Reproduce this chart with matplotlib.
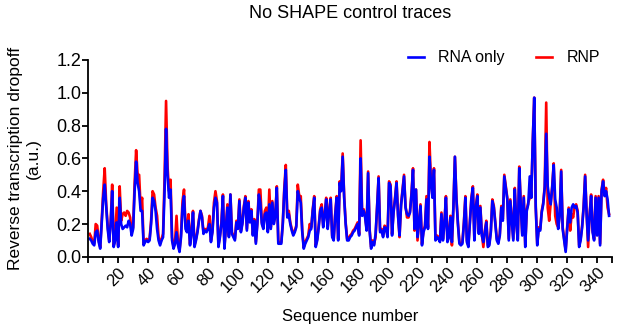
import matplotlib
matplotlib.use("Agg")
import matplotlib.pyplot as plt
from matplotlib.ticker import MultipleLocator, FormatStrFormatter

plt.rcParams['font.family'] = ['Liberation Sans', 'DejaVu Sans']

# Sequence positions 1..348
rna_only = [
    0.11, 0.10, 0.08, 0.07, 0.15, 0.16, 0.09, 0.05, 0.20, 0.36,
    0.44, 0.30, 0.17, 0.09, 0.20, 0.40, 0.06, 0.10, 0.21, 0.06,
    0.36, 0.20, 0.17, 0.18, 0.19, 0.18, 0.22, 0.20, 0.13, 0.17,
    0.40, 0.58, 0.45, 0.40, 0.28, 0.28, 0.07, 0.09, 0.10, 0.09,
    0.10, 0.20, 0.36, 0.34, 0.28, 0.17, 0.10, 0.07, 0.10, 0.12,
    0.40, 0.78, 0.50, 0.36, 0.41, 0.10, 0.05, 0.08, 0.15, 0.07,
    0.03, 0.12, 0.30, 0.37, 0.17, 0.15, 0.22, 0.07, 0.14, 0.27,
    0.06, 0.10, 0.15, 0.22, 0.28, 0.24, 0.14, 0.16, 0.15, 0.17,
    0.20, 0.09, 0.15, 0.30, 0.36, 0.33, 0.06, 0.12, 0.20, 0.37,
    0.05, 0.18, 0.30, 0.12, 0.38, 0.14, 0.12, 0.10, 0.21, 0.17,
    0.34, 0.15, 0.20, 0.30, 0.36, 0.16, 0.33, 0.21, 0.28, 0.13,
    0.22, 0.08, 0.20, 0.38, 0.33, 0.20, 0.17, 0.26, 0.27, 0.15,
    0.32, 0.17, 0.33, 0.20, 0.25, 0.42, 0.08, 0.08, 0.08, 0.20,
    0.40, 0.53, 0.24, 0.26, 0.20, 0.16, 0.13, 0.15, 0.18, 0.40,
    0.36, 0.33, 0.15, 0.05, 0.08, 0.10, 0.12, 0.16, 0.17, 0.28,
    0.36, 0.06, 0.10, 0.18, 0.28, 0.30, 0.18, 0.25, 0.35, 0.17,
    0.28, 0.35, 0.12, 0.10, 0.25, 0.36, 0.10, 0.45, 0.40, 0.61,
    0.36, 0.20, 0.10, 0.10, 0.12, 0.13, 0.15, 0.16, 0.18, 0.20,
    0.13, 0.60, 0.25, 0.28, 0.24, 0.16, 0.51, 0.16, 0.05, 0.09,
    0.07, 0.14, 0.30, 0.48, 0.15, 0.16, 0.12, 0.18, 0.17, 0.12,
    0.45, 0.43, 0.13, 0.27, 0.35, 0.45, 0.25, 0.13, 0.31, 0.40,
    0.49, 0.30, 0.26, 0.25, 0.27, 0.38, 0.53, 0.17, 0.41, 0.12,
    0.20, 0.31, 0.07, 0.15, 0.18, 0.35, 0.17, 0.61, 0.45, 0.36,
    0.53, 0.10, 0.12, 0.11, 0.09, 0.26, 0.10, 0.20, 0.36, 0.09,
    0.12, 0.24, 0.09, 0.30, 0.61, 0.35, 0.20, 0.08, 0.07, 0.08,
    0.20, 0.36, 0.09, 0.06, 0.20, 0.35, 0.42, 0.10, 0.30, 0.37,
    0.14, 0.30, 0.13, 0.09, 0.15, 0.21, 0.06, 0.07, 0.15, 0.34,
    0.30, 0.20, 0.10, 0.08, 0.13, 0.30, 0.22, 0.49, 0.42, 0.35,
    0.10, 0.34, 0.22, 0.10, 0.41, 0.20, 0.10, 0.54, 0.31, 0.13,
    0.36, 0.06, 0.28, 0.32, 0.49, 0.36, 0.70, 0.97, 0.30, 0.07,
    0.17, 0.16, 0.27, 0.32, 0.42, 0.75, 0.43, 0.36, 0.32, 0.42,
    0.56, 0.35, 0.30, 0.17, 0.25, 0.52, 0.17, 0.10, 0.03, 0.17,
    0.29, 0.21, 0.30, 0.32, 0.30, 0.31, 0.27, 0.06, 0.10, 0.18,
    0.30, 0.49, 0.26, 0.10, 0.25, 0.37, 0.15, 0.10, 0.36, 0.13,
    0.36, 0.07, 0.40, 0.46, 0.37, 0.40, 0.35, 0.25,
]

rnp = [
    0.14, 0.12, 0.09, 0.08, 0.20, 0.19, 0.10, 0.06, 0.22, 0.40,
    0.54, 0.32, 0.19, 0.10, 0.21, 0.44, 0.07, 0.11, 0.30, 0.07,
    0.43, 0.22, 0.26, 0.27, 0.25, 0.28, 0.27, 0.24, 0.15, 0.18,
    0.45, 0.65, 0.50, 0.50, 0.30, 0.36, 0.08, 0.10, 0.11, 0.10,
    0.11, 0.22, 0.40, 0.38, 0.30, 0.25, 0.12, 0.08, 0.11, 0.14,
    0.48, 0.95, 0.55, 0.40, 0.47, 0.12, 0.06, 0.09, 0.25, 0.08,
    0.04, 0.14, 0.34, 0.41, 0.19, 0.17, 0.26, 0.08, 0.15, 0.28,
    0.07, 0.11, 0.16, 0.23, 0.28, 0.25, 0.15, 0.17, 0.16, 0.18,
    0.25, 0.10, 0.16, 0.33, 0.40, 0.34, 0.07, 0.13, 0.21, 0.38,
    0.06, 0.19, 0.32, 0.13, 0.38, 0.15, 0.13, 0.11, 0.22, 0.18,
    0.35, 0.16, 0.21, 0.31, 0.37, 0.17, 0.34, 0.22, 0.29, 0.14,
    0.23, 0.09, 0.21, 0.41, 0.41, 0.21, 0.18, 0.28, 0.30, 0.16,
    0.41, 0.18, 0.34, 0.21, 0.26, 0.43, 0.09, 0.09, 0.09, 0.21,
    0.42, 0.56, 0.25, 0.28, 0.21, 0.17, 0.14, 0.16, 0.19, 0.44,
    0.37, 0.37, 0.16, 0.06, 0.09, 0.11, 0.13, 0.20, 0.18, 0.29,
    0.37, 0.07, 0.11, 0.19, 0.29, 0.32, 0.19, 0.26, 0.36, 0.18,
    0.29, 0.36, 0.13, 0.11, 0.26, 0.37, 0.11, 0.46, 0.41, 0.63,
    0.37, 0.21, 0.11, 0.11, 0.13, 0.14, 0.16, 0.17, 0.19, 0.21,
    0.14, 0.71, 0.26, 0.29, 0.25, 0.17, 0.52, 0.17, 0.06, 0.10,
    0.08, 0.12, 0.31, 0.49, 0.16, 0.17, 0.13, 0.19, 0.18, 0.13,
    0.46, 0.44, 0.14, 0.28, 0.36, 0.46, 0.26, 0.12, 0.32, 0.41,
    0.50, 0.31, 0.24, 0.24, 0.28, 0.39, 0.54, 0.16, 0.41, 0.10,
    0.21, 0.32, 0.08, 0.16, 0.19, 0.37, 0.18, 0.70, 0.46, 0.37,
    0.54, 0.11, 0.13, 0.12, 0.10, 0.27, 0.11, 0.21, 0.37, 0.10,
    0.13, 0.25, 0.07, 0.31, 0.61, 0.36, 0.21, 0.09, 0.08, 0.09,
    0.21, 0.37, 0.10, 0.07, 0.21, 0.36, 0.43, 0.11, 0.31, 0.38,
    0.15, 0.31, 0.14, 0.06, 0.16, 0.22, 0.07, 0.08, 0.16, 0.35,
    0.31, 0.21, 0.11, 0.09, 0.14, 0.31, 0.23, 0.50, 0.43, 0.36,
    0.11, 0.35, 0.23, 0.11, 0.42, 0.21, 0.11, 0.55, 0.32, 0.14,
    0.37, 0.07, 0.29, 0.33, 0.36, 0.36, 0.70, 0.97, 0.31, 0.08,
    0.18, 0.17, 0.28, 0.33, 0.43, 0.94, 0.30, 0.22, 0.33, 0.43,
    0.57, 0.25, 0.20, 0.18, 0.26, 0.53, 0.18, 0.11, 0.04, 0.18,
    0.30, 0.16, 0.26, 0.24, 0.31, 0.32, 0.28, 0.07, 0.11, 0.19,
    0.31, 0.50, 0.27, 0.06, 0.26, 0.38, 0.16, 0.11, 0.37, 0.14,
    0.37, 0.08, 0.41, 0.47, 0.38, 0.42, 0.30, 0.26,
]

positions = list(range(1, len(rna_only) + 1))

fig = plt.figure(figsize=(6.17, 3.31), dpi=100)
ax = fig.add_axes([0.143, 0.224, 0.849, 0.595])

ax.plot(positions, rnp, color='#ff0000', lw=1.9, label='RNP', solid_joinstyle='round')
ax.plot(positions, rna_only, color='#0000ff', lw=1.9, label='RNA only', solid_joinstyle='round')

ax.set_xlim(0, 350)
ax.set_ylim(0, 1.2)
ax.yaxis.set_major_locator(MultipleLocator(0.2))
ax.yaxis.set_major_formatter(FormatStrFormatter('%.1f'))
ax.xaxis.set_minor_locator(MultipleLocator(10))
ax.set_xticks(list(range(20, 341, 20)))

for s in ['top', 'right']:
    ax.spines[s].set_visible(False)
for s in ['left', 'bottom']:
    ax.spines[s].set_linewidth(1.3)

ax.tick_params(axis='y', which='major', direction='out', length=4, width=1.3, labelsize=13, pad=1)
ax.tick_params(axis='x', which='major', direction='out', length=4, width=1.3, labelsize=12, pad=2)
ax.tick_params(axis='x', which='minor', direction='out', length=4, width=1.3)
plt.setp(ax.get_xticklabels(), rotation=45, ha='right', va='top', rotation_mode='anchor')

ax.set_xlabel('Sequence number', fontsize=12, labelpad=10)
ax.set_ylabel('Reverse transcription dropoff\n(a.u.)', fontsize=12.5, labelpad=11)
ax.set_title('No SHAPE control traces', fontsize=13, pad=30)

handles, labels = ax.get_legend_handles_labels()
ax.legend([handles[1], handles[0]], [labels[1], labels[0]], loc='center right',
          bbox_to_anchor=(1.005, 1.01), ncol=2, frameon=False, fontsize=11.5,
          handlelength=1.0, columnspacing=2.0, handletextpad=0.9)

fig.savefig('out.png', dpi=100)
